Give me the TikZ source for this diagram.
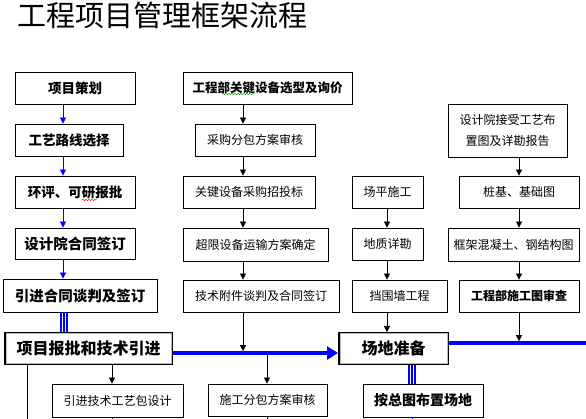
\documentclass[tikz,border=0pt]{standalone}
\usepackage{fontspec}
\newfontfamily\cjk{Noto Sans CJK SC}
\usetikzlibrary{arrows.meta,decorations.pathmorphing,calc}
\definecolor{lineblue}{RGB}{0,0,255}
\tikzset{
  x=1pt,y=-1pt,
  box/.style={draw=black,line width=0.8pt,fill=white,inner sep=0pt,minimum height=32pt,align=center,font=\cjk\fontsize{12}{15}\selectfont},
  bbox/.style={box,font=\cjk\bfseries\fontsize{13.5}{16}\selectfont},
  bigbox/.style={box,line width=2pt,font=\cjk\bfseries\fontsize{16}{18}\selectfont},
  blk/.style={draw=black,line width=0.7pt,-{Triangle[width=6pt,length=6pt]}},
  bluarr/.style={draw=lineblue,line width=0.8pt,-{Triangle[width=6pt,length=6pt]}},
  thin/.style={draw=black,line width=0.7pt},
  bluethick/.style={draw=lineblue,line width=3.5pt},
  tripleline/.style={draw=lineblue,line width=1.6pt},
  wavy/.style={decorate,decoration={snake,segment length=3pt,amplitude=0.6pt},line width=0.5pt}
}
\begin{document}
\begin{tikzpicture}
\useasboundingbox[fill=white] (0,0) rectangle (586,419);
% title
\node[anchor=west,inner sep=0pt,font=\cjk\fontsize{29}{32}\selectfont] (title) at (17,15) {工程项目管理框架流程};
% column x coordinates
\coordinate (lx) at (63,0);
\coordinate (lx2) at (64,0);
\coordinate (mx) at (243,0);
\coordinate (rmx) at (387,0);
\coordinate (rx) at (519,0);
\coordinate (ax) at (112,0);
\coordinate (bx) at (267,0);
\coordinate (vx) at (27,0);
\coordinate (tx) at (412,0);
\coordinate (bot) at (0,419);
\coordinate (rend) at (586,343);
% left column
\node[bbox,minimum width=120pt] (n1) at (75,88) {项目策划};
\node[bbox,minimum width=108pt] (n2) at (69,140) {工艺路线选择};
\node[bbox,minimum width=120pt] (n3) at (75,192) {环评、可研报批};
\node[bbox,minimum width=120pt,minimum height=31pt,font=\cjk\bfseries\fontsize{14.5}{16}\selectfont] (n4) at (75,243.5) {设计院合同签订};
\node[bbox,minimum width=154pt,minimum height=33pt,font=\cjk\bfseries\fontsize{14.5}{16}\selectfont] (n5) at (80,295.5) {引进合同谈判及签订};
\node[bigbox,minimum width=167pt,minimum height=31pt] (n6) at (88.5,348.5) {项目报批和技术引进};
\node[box,minimum width=131pt,minimum height=33pt] (n7) at (117.5,400.5) {引进技术工艺包设计};
% middle column
\node[bbox,minimum width=169pt,font=\cjk\bfseries\fontsize{12.5}{15}\selectfont] (m1) at (267.5,88) {工程部关键设备选型及询价};
\node[box,minimum width=120pt] (m2) at (255,140) {采购分包方案审核};
\node[box,minimum width=132pt] (m3) at (249,192) {关键设备采购招投标};
\node[box,minimum width=145pt,minimum height=33pt] (m4) at (255.5,244.5) {超限设备运输方案确定};
\node[box,minimum width=156pt] (m5) at (261,296) {技术附件谈判及合同签订};
\node[box,minimum width=119pt] (m6) at (267.5,400) {施工分包方案审核};
% right-middle column
\node[box,minimum width=71pt] (r1) at (387.5,192) {场平施工};
\node[box,minimum width=71pt] (r2) at (387.5,244) {地质详勘};
\node[box,minimum width=95pt] (r3) at (399.5,296) {挡围墙工程};
\node[bigbox,minimum width=109pt,minimum height=31pt] (s1) at (393.5,348.5) {场地准备};
\node[bbox,minimum width=120pt,minimum height=33pt,font=\cjk\bfseries\fontsize{14}{16}\selectfont] (s2) at (423,400.5) {按总图布置场地};
% right column
\node[box,minimum width=119pt,minimum height=53pt,font=\cjk\fontsize{12}{21}\selectfont] (q1) at (507.5,130.5) {设计院接受工艺布\\置图及详勘报告};
\node[box,minimum width=120pt] (q2) at (519,192) {桩基、基础图};
\node[box,minimum width=131pt,minimum height=33pt] (q3) at (513.5,244.5) {框架混凝土、钢结构图};
\node[bbox,minimum width=120pt,font=\cjk\bfseries\fontsize{12}{15}\selectfont] (q4) at (519,296) {工程部施工图审查};
% inner grey lines of emphasised boxes
\foreach \b in {n6,s1}{
  \draw[gray!55,line width=0.6pt] ([shift={(1.8pt,-1.8pt)}]\b.north west) rectangle ([shift={(-1.8pt,1.8pt)}]\b.south east);
}
% spell-check wavy marks
\draw[wavy,green!60!black] (222,94) -- (255,94);
\draw[wavy,red] (82,200) -- (97,200);
% left column arrows
\draw[bluarr] (n1.south -| lx) -- (n2.north -| lx);
\draw[bluarr] (n2.south -| lx) -- (n3.north -| lx);
\draw[bluarr] (n3.south -| lx) -- (n4.north -| lx);
\draw[bluarr] (n4.south -| lx) -- (n5.north -| lx);
\foreach \d in {-3,0,3}{
  \draw[tripleline] ([xshift=\d pt]n5.south -| lx2) -- ([xshift=\d pt]n6.north -| lx2);
}
% middle column arrows
\draw[blk] (m1.south -| mx) -- (m2.north -| mx);
\draw[blk] (m2.south -| mx) -- (m3.north -| mx);
\draw[blk] (m3.south -| mx) -- (m4.north -| mx);
\draw[blk] (m4.south -| mx) -- (m5.north -| mx);
% right-middle arrows
\draw[blk] (r1.south -| rmx) -- (r2.north -| rmx);
\draw[blk] (r2.south -| rmx) -- (r3.north -| rmx);
\draw[blk] (r3.south -| rmx) -- (s1.north -| rmx);
% right column arrows
\draw[blk] (q1.south -| rx) -- (q2.north -| rx);
\draw[blk] (q2.south -| rx) -- (q3.north -| rx);
\draw[blk] (q3.south -| rx) -- (q4.north -| rx);
% thick blue lines
\draw[bluethick,-{Triangle[width=13pt,length=11pt]}] ([yshift=-4.5pt]n6.east) -- ([yshift=-4.5pt]s1.west);
\draw[bluethick] ([yshift=5.5pt]s1.east) -- (rend);
% arrows onto blue lines
\draw[blk] (m5.south -| mx) -- ($(mx |- n6.east)+(0,2.7)$);
\draw[blk] (q4.south -| rx) -- ($(rx |- rend)+(0,-1.8)$);
% below project box
\draw[thin] (n6.south -| vx) -- (vx |- bot);
\draw[blk] (n6.south -| ax) -- (n7.north -| ax);
\draw[thin] (n7.south -| ax) -- (ax |- bot);
\draw[blk] ($(bx |- n6.east)+(0,4.5)$) -- (m6.north -| bx);
\draw[thin] (m6.south -| bx) -- (bx |- bot);
% below site preparation
\foreach \d in {-3,0,3}{
  \draw[tripleline] ([xshift=\d pt]s1.south -| tx) -- ([xshift=\d pt]s2.north -| tx);
}
\draw[draw=lineblue,line width=0.8pt] (s2.south -| tx) -- (tx |- bot);
\end{tikzpicture}
\end{document}
